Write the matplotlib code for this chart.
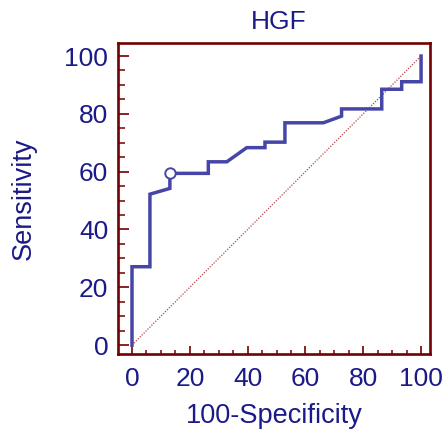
import matplotlib
matplotlib.use("Agg")
import matplotlib.pyplot as plt
from matplotlib.ticker import MultipleLocator

plt.rcParams['font.family'] = ['Liberation Sans', 'DejaVu Sans']

# ROC curve points (100-Specificity, Sensitivity)
fpr = [0, 0, 6.2, 6.2, 13.1, 13.1, 26.4, 26.4, 32.8, 39.7, 46.0, 46.0,
       52.9, 52.9, 66.2, 72.5, 72.5, 86.4, 86.4, 93.3, 93.3, 100, 100]
tpr = [0, 27.1, 27.1, 52.2, 54.2, 59.4, 59.4, 63.4, 63.4, 68.3, 68.3, 70.2,
       70.2, 76.9, 76.9, 79.2, 81.7, 81.7, 88.5, 88.5, 91.1, 91.1, 100]
# optimal criterion point
opt_x = [13.1]
opt_y = [59.4]
# reference diagonal
diag_x = [0, 100]
diag_y = [0, 100]

title = "HGF"
xlabel = "100-Specificity"
ylabel = "Sensitivity"
ticks = [0, 20, 40, 60, 80, 100]

text_c = "#1a1a88"
frame_c = "#720000"
curve_c = "#4646a8"

fig = plt.figure(figsize=(4.43, 4.34), dpi=100)
ax = fig.add_axes([0.2664, 0.1843, 0.7043, 0.7166])

ax.plot(diag_x, diag_y, linestyle=(0, (1, 1.2)), color="#b04848", linewidth=0.9)
ax.plot(fpr, tpr, color=curve_c, linewidth=2.5, solid_joinstyle='miter')
ax.plot(opt_x, opt_y, 'o', markersize=7.5, markerfacecolor='white',
        markeredgecolor=curve_c, markeredgewidth=1.4, zorder=5)

ax.set_xlim(-4.84, 103.1)
ax.set_ylim(-3.1, 104.5)
ax.set_xticks(ticks)
ax.set_yticks(ticks)
ax.xaxis.set_minor_locator(MultipleLocator(5))
ax.yaxis.set_minor_locator(MultipleLocator(5))

for s in ax.spines.values():
    s.set_color(frame_c)
    s.set_linewidth(1.9)

ax.tick_params(axis='x', which='major', direction='in', length=6, width=1.2,
               color=frame_c, labelcolor=text_c, labelsize=19, pad=9)
ax.tick_params(axis='x', which='minor', direction='in', length=3, width=1.1,
               color=frame_c)
ax.tick_params(axis='y', which='major', direction='in', length=8, width=1.2,
               color=frame_c, labelcolor=text_c, labelsize=19, pad=7)
ax.tick_params(axis='y', which='minor', direction='in', length=5, width=1.1,
               color=frame_c)

ax.set_title(title, color=text_c, fontsize=19, pad=10, x=0.515)
ax.set_xlabel(xlabel, color=text_c, fontsize=19.5, labelpad=9)
ax.set_ylabel(ylabel, color=text_c, fontsize=19.5, labelpad=20)

fig.savefig("out.png", dpi=100)
